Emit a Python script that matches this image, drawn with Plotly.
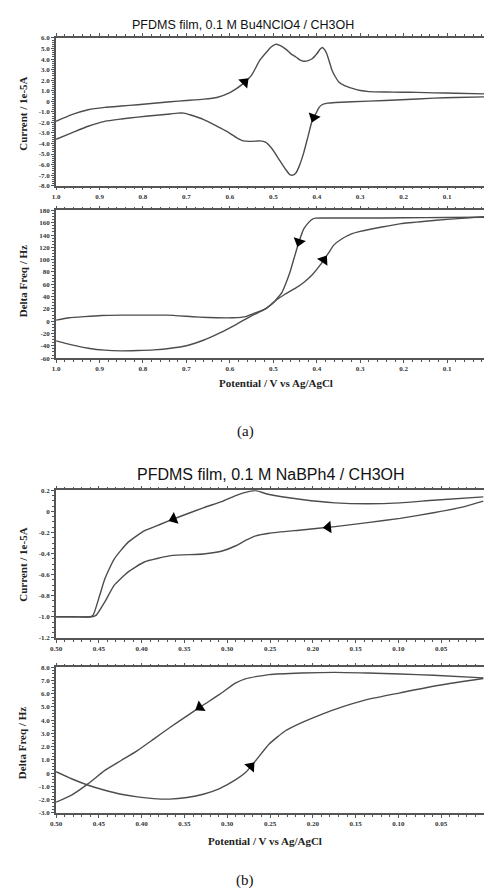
import numpy as np
import plotly.graph_objects as go

# ---------------- data (a): PFDMS film, 0.1 M Bu4NClO4 / CH3OH ----------------
# current, forward scan (upper branch), potential decreasing
va_cur_fwd = [1.0, 0.964, 0.926, 0.888, 0.85, 0.812, 0.775, 0.737, 0.70, 0.66, 0.63, 0.60, 0.585,
              0.569, 0.55, 0.531, 0.515, 0.505, 0.495, 0.485, 0.47, 0.458, 0.448, 0.438, 0.43,
              0.42, 0.41, 0.40, 0.392, 0.387, 0.382, 0.377, 0.37, 0.365, 0.357, 0.35, 0.335,
              0.32, 0.30, 0.28, 0.24, 0.206, 0.17, 0.13, 0.08, 0.015]
ia_cur_fwd = [-1.9, -1.27, -0.8, -0.58, -0.45, -0.33, -0.19, -0.05, 0.07, 0.2, 0.36, 0.83, 1.2,
              1.7, 2.48, 3.9, 4.7, 5.15, 5.4, 5.3, 4.9, 4.45, 4.2, 3.9, 3.8,
              3.85, 4.05, 4.5, 4.95, 5.1, 4.9, 4.5, 3.6, 2.95, 2.3, 1.86, 1.45,
              1.24, 1.02, 0.92, 0.88, 0.86, 0.84, 0.8, 0.76, 0.7]
# current, reverse scan (lower branch), potential increasing
va_cur_rev = [0.015, 0.08, 0.13, 0.206, 0.28, 0.357, 0.375, 0.388, 0.395, 0.40, 0.41, 0.42, 0.43,
              0.44, 0.448, 0.455, 0.462, 0.472, 0.487, 0.503, 0.518, 0.53, 0.54, 0.555, 0.569,
              0.584, 0.608, 0.63, 0.66, 0.69, 0.706, 0.72, 0.737, 0.775, 0.812, 0.85, 0.888,
              0.926, 0.964, 1.0]
ia_cur_rev = [0.42, 0.36, 0.3, 0.14, 0.01, -0.11, -0.18, -0.33, -0.6, -1.0, -1.74, -3.3, -4.87,
              -6.1, -6.8, -7.0, -6.95, -6.44, -5.5, -4.5, -3.87, -3.75, -3.78, -3.8, -3.75,
              -3.46, -2.83, -2.36, -1.74, -1.3, -1.12, -1.12, -1.2, -1.35, -1.5, -1.68, -1.9,
              -2.37, -3.0, -3.6]
# frequency, forward scan
va_frq_fwd = [1.0, 0.97, 0.935, 0.896, 0.85, 0.82, 0.78, 0.745, 0.70, 0.67, 0.63, 0.593, 0.563,
              0.547, 0.517, 0.498, 0.475, 0.449, 0.43, 0.411, 0.392, 0.384, 0.372, 0.361, 0.342,
              0.32, 0.30, 0.25, 0.206, 0.15, 0.1, 0.05, 0.015]
fa_frq_fwd = [1.8, 5.5, 7.5, 9.3, 9.8, 9.8, 9.8, 9.8, 8.0, 6.6, 5.5, 5.5, 7.5,
              12, 20.5, 32, 43, 53.7, 63, 75, 91.4, 99.5, 112, 123.6, 134,
              142, 146, 153, 158.5, 162.5, 165.5, 168, 170]
# frequency, reverse scan
va_frq_rev = [0.015, 0.1, 0.2, 0.3, 0.357, 0.403, 0.41, 0.418, 0.43, 0.441, 0.452, 0.462, 0.472,
              0.48, 0.49, 0.498, 0.51, 0.525, 0.547, 0.565, 0.585, 0.623, 0.661, 0.70, 0.736,
              0.775, 0.812, 0.85, 0.888, 0.926, 0.964, 1.0]
fa_frq_rev = [169, 168.5, 168, 167.6, 167.6, 167.6, 166, 161, 150, 129, 103, 79, 60,
              47, 38, 31, 24, 17, 10, 3, -5, -19, -31, -40, -44,
              -46.6, -47.6, -48.2, -47.1, -43.9, -38.5, -32]

# ---------------- data (b): PFDMS film, 0.1 M NaBPh4 / CH3OH ----------------
vb_cur_up = [0.0008, 0.059, 0.098, 0.136, 0.174, 0.213, 0.251, 0.2666, 0.274, 0.29, 0.305, 0.328,
             0.359, 0.378, 0.397, 0.416, 0.432, 0.443, 0.449, 0.4567, 0.4605, 0.48, 0.5]
ib_cur_up = [0.138, 0.106, 0.081, 0.072, 0.081, 0.113, 0.16, 0.197, 0.19, 0.15, 0.097, 0.034,
             -0.06, -0.122, -0.185, -0.294, -0.45, -0.64, -0.796, -0.984, -1.0, -1.0, -1.0]
vb_cur_lo = [0.0008, 0.0207, 0.059, 0.098, 0.136, 0.174, 0.213, 0.251, 0.2666, 0.278, 0.29, 0.305,
             0.328, 0.366, 0.397, 0.416, 0.432, 0.443, 0.453, 0.458, 0.48, 0.5]
ib_cur_lo = [0.097, 0.05, -0.013, -0.066, -0.107, -0.144, -0.176, -0.207, -0.232, -0.273, -0.326,
             -0.373, -0.404, -0.42, -0.48, -0.576, -0.70, -0.858, -0.984, -1.0, -1.0, -1.0]
vb_frq_a = [0.0008, 0.059, 0.098, 0.136, 0.174, 0.213, 0.251, 0.278, 0.29, 0.309, 0.328, 0.347,
            0.367, 0.386, 0.405, 0.424, 0.443, 0.4624, 0.482, 0.5]
fb_frq_a = [7.2, 7.4, 7.5, 7.57, 7.62, 7.57, 7.45, 7.15, 6.82, 5.95, 5.15, 4.33,
            3.45, 2.57, 1.7, 0.95, 0.2, -0.8, -1.67, -2.2]
vb_frq_b = [0.0008, 0.059, 0.098, 0.136, 0.174, 0.194, 0.213, 0.232, 0.251, 0.2666, 0.278, 0.29,
            0.309, 0.328, 0.347, 0.367, 0.386, 0.405, 0.424, 0.443, 0.4624, 0.482, 0.5]
fb_frq_b = [7.15, 6.57, 6.07, 5.57, 4.82, 4.33, 3.82, 3.2, 2.2, 0.95, 0.08, -0.5,
            -1.17, -1.6, -1.85, -1.97, -1.93, -1.8, -1.6, -1.3, -0.92, -0.43, 0.1]

# ---------------- tick labels ----------------
xa_tickvals = [1.0, 0.9, 0.8, 0.7, 0.6, 0.5, 0.4, 0.3, 0.2, 0.1]
xa_ticktext = ["1.0", "0.9", "0.8", "0.7", "0.6", "0.5", "0.4", "0.3", "0.2", "0.1"]
ya1_tickvals = [6, 5, 4, 3, 2, 1, 0, -1, -2, -3, -4, -5, -6, -7, -8]
ya1_ticktext = ["6.0", "5.0", "4.0", "3.0", "2.0", "1.0", "0", "-1.0", "-2.0", "-3.0", "-4.0",
                "-5.0", "-6.0", "-7.0", "-8.0"]
ya2_tickvals = [180, 160, 140, 120, 100, 80, 60, 40, 20, 0, -20, -40, -60]
ya2_ticktext = ["180", "160", "140", "120", "100", "80", "60", "40", "20", "0", "-20", "-40", "-60"]
xb_tickvals = [0.50, 0.45, 0.40, 0.35, 0.30, 0.25, 0.20, 0.15, 0.10, 0.05]
xb_ticktext = ["0.50", "0.45", "0.40", "0.35", "0.30", "0.25", "0.20", "0.15", "0.10", "0.05"]
yb1_tickvals = [0.2, 0, -0.2, -0.4, -0.6, -0.8, -1.0, -1.2]
yb1_ticktext = ["0.2", "0", "-0.2", "-0.4", "-0.6", "-0.8", "-1.0", "-1.2"]
yb2_tickvals = [8, 7, 6, 5, 4, 3, 2, 1, 0, -1, -2, -3]
yb2_ticktext = ["8.0", "7.0", "6.0", "5.0", "4.0", "3.0", "2.0", "1.0", "0", "-1.0", "-2.0", "-3.0"]

# ---------------- layout geometry ----------------
W, H = 484, 896
LEFT = 50.7
panels = {  # top px, bottom px
    1: (34.3, 183.3),
    2: (208.3, 357.3),
    3: (490.7, 639.6),
    4: (669.3, 816.0),
}
x_ranges = {1: [1.0, 0.0152], 2: [1.0, 0.0152], 3: [0.5, 0.0], 4: [0.5, 0.0]}
y_ranges = {1: [-8, 6], 2: [-60, 180], 3: [-1.2, 0.2], 4: [-3, 8]}

LINE = "#4d4d4d"
AX = "#555555"

fig = go.Figure()

def add_line(n, xs, ys):
    fig.add_trace(go.Scatter(x=xs, y=ys, mode="lines",
                             line=dict(color=LINE, width=1.4, shape="spline", smoothing=0.5),
                             xaxis="x" if n == 1 else f"x{n}", yaxis="y" if n == 1 else f"y{n}",
                             showlegend=False, hoverinfo="skip"))

series = [
    (1, va_cur_fwd, ia_cur_fwd), (1, va_cur_rev, ia_cur_rev),
    (2, va_frq_fwd, fa_frq_fwd), (2, va_frq_rev, fa_frq_rev),
    (3, vb_cur_up, ib_cur_up), (3, vb_cur_lo, ib_cur_lo),
    (4, vb_frq_a, fb_frq_a), (4, vb_frq_b, fb_frq_b),
]
for n, xs, ys in series:
    add_line(n, xs, ys)

# ---------------- direction arrows (placed on the curves) ----------------
# (series index, potential, direction: -1 = toward lower potential (rightward), +1 = toward higher)
arrows = [(0, 0.566, -1), (1, 0.407, +1), (3, 0.441, +1), (2, 0.384, -1),
          (4, 0.3626, +1), (5, 0.182, +1), (6, 0.332, +1), (7, 0.2724, -1)]

def px_scale(n):
    top, bot = panels[n]
    xr, yr = x_ranges[n], y_ranges[n]
    sx = (W - LEFT) / (xr[1] - xr[0])      # px per unit (signed)
    sy = (bot - top) / (yr[1] - yr[0])     # px (downward) per unit up
    return sx, sy

for si, v, d in arrows:
    n, xs, ys = series[si]
    xs_a, ys_a = np.array(xs), np.array(ys)
    order = np.argsort(xs_a)
    xo, yo = xs_a[order], ys_a[order]
    y0 = float(np.interp(v, xo, yo))
    h = 0.006
    y1 = float(np.interp(v + d * h, xo, yo))
    sx, sy = px_scale(n)
    dx = d * h * sx
    dy = -(y1 - y0) * sy  # screen down positive
    ang = np.degrees(np.arctan2(dx, -dy))
    fig.add_trace(go.Scatter(x=[v], y=[y0], mode="markers",
                             marker=dict(symbol="triangle-up", size=11, angle=ang, color="black",
                                         line=dict(width=0)),
                             xaxis="x" if n == 1 else f"x{n}", yaxis="y" if n == 1 else f"y{n}",
                             showlegend=False, hoverinfo="skip"))

tickfont = dict(family="Liberation Serif", size=7, color="#333", weight="bold")

def xaxis(n, tv, tt, minor_dtick):
    return dict(domain=[LEFT / W, 1.0], range=x_ranges[n], anchor="y" if n == 1 else f"y{n}",
                tickmode="array", tickvals=tv, ticktext=tt, tickfont=tickfont,
                showline=True, linecolor=AX, linewidth=1.6, mirror="allticks",
                ticks="outside", ticklen=3, tickwidth=1, tickcolor=AX,
                minor=dict(ticks="outside", ticklen=2, tickwidth=1, tickcolor=AX,
                           dtick=minor_dtick, tick0=0, showgrid=False),
                showgrid=False, zeroline=False, fixedrange=True)

def yaxis(n, tv, tt, minor_dtick):
    top, bot = panels[n]
    return dict(domain=[1 - bot / H, 1 - top / H], range=y_ranges[n],
                anchor="x" if n == 1 else f"x{n}",
                tickmode="array", tickvals=tv, ticktext=tt, tickfont=tickfont,
                showline=True, linecolor=AX, linewidth=1.6, mirror=False,
                ticks="outside", ticklen=3, tickwidth=1, tickcolor=AX,
                minor=dict(ticks="outside", ticklen=2, tickwidth=1, tickcolor=AX,
                           dtick=minor_dtick, tick0=0, showgrid=False),
                showgrid=False, zeroline=False, fixedrange=True)

layout = dict(width=W, height=H, margin=dict(l=0, r=0, t=0, b=0),
              paper_bgcolor="white", plot_bgcolor="white", showlegend=False)
layout["xaxis"] = xaxis(1, xa_tickvals, xa_ticktext, 0.02)
layout["xaxis2"] = xaxis(2, xa_tickvals, xa_ticktext, 0.02)
layout["xaxis3"] = xaxis(3, xb_tickvals, xb_ticktext, 0.01)
layout["xaxis4"] = xaxis(4, xb_tickvals, xb_ticktext, 0.01)
layout["yaxis"] = yaxis(1, ya1_tickvals, ya1_ticktext, 0.2)
layout["yaxis2"] = yaxis(2, ya2_tickvals, ya2_ticktext, 5)
layout["yaxis3"] = yaxis(3, yb1_tickvals, yb1_ticktext, 0.05)
layout["yaxis4"] = yaxis(4, yb2_tickvals, yb2_ticktext, 0.25)
fig.update_layout(**layout)

serif_b = dict(family="Liberation Serif", size=11, color="#222", weight="bold")

def ann(text, xpx, ypx, font, angle=0):
    fig.add_annotation(text=text, x=xpx / W, y=1 - ypx / H, xref="paper", yref="paper",
                       showarrow=False, font=font, textangle=angle,
                       xanchor="center", yanchor="middle")

ann("PFDMS film, 0.1 M Bu4NClO4 / CH3OH", 240, 21.5,
    dict(family="Liberation Sans", size=12.5, color="#111"))
ann("PFDMS film, 0.1 M NaBPh4 / CH3OH", 268, 475,
    dict(family="Liberation Sans", size=16, color="#111"))
ann("Current / 1e-5A", 17, 111, serif_b, -90)
ann("Delta Freq / Hz", 17, 280, serif_b, -90)
ann("Current / 1e-5A", 17, 566, serif_b, -90)
ann("Delta Freq / Hz", 17, 746, serif_b, -90)
ann("Potential / V vs Ag/AgCl", 273, 382.5, serif_b)
ann("Potential / V vs Ag/AgCl", 262, 845, serif_b)
ann("(a)", 242, 431, dict(family="Liberation Serif", size=15, color="#111"))
ann("(b)", 242, 884, dict(family="Liberation Serif", size=15, color="#111"))

fig.write_html("out.html", config={"displayModeBar": False},
               post_script="document.body.style.margin='0px';document.body.style.padding='0px';")
